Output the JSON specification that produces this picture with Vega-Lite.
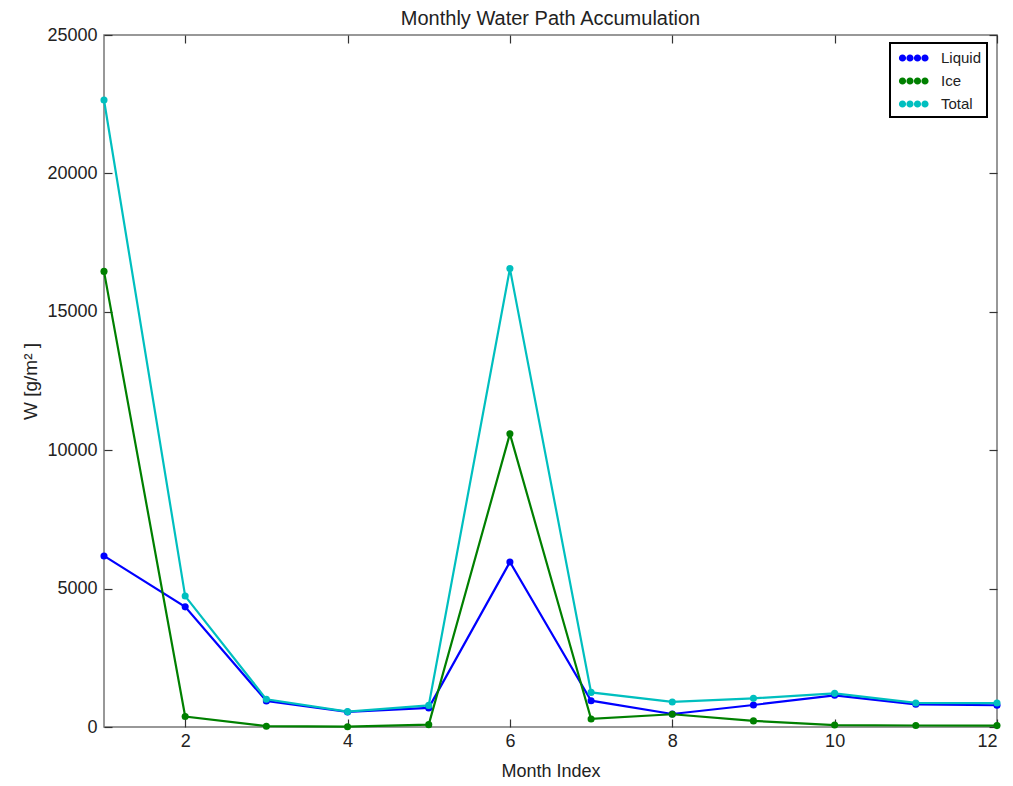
{
  "$schema": "https://vega.github.io/schema/vega-lite/v6.json",
  "width": 893,
  "height": 692,
  "autosize": "none",
  "padding": {"left": 104, "top": 35, "right": 16, "bottom": 59},
  "background": "white",
  "title": {"text": "Monthly Water Path Accumulation", "fontSize": 20, "font": "Liberation Sans", "fontWeight": "normal", "color": "#222", "offset": -3},
  "config": {
    "font": "Liberation Sans",
    "view": {"stroke": "#777", "strokeWidth": 1.5},
    "axis": {"grid": false, "domain": false, "tickColor": "#333", "tickSize": -8, "tickWidth": 1.2, "labelFontSize": 18, "labelColor": "#222", "labelFont": "Liberation Sans", "titleFont": "Liberation Sans", "titleFontSize": 18, "titleFontWeight": "normal", "titleColor": "#222"}
  },
  "data": {"values": [
    {"month": 1, "series": "Liquid", "W": 6180},
    {"month": 2, "series": "Liquid", "W": 4340},
    {"month": 3, "series": "Liquid", "W": 940},
    {"month": 4, "series": "Liquid", "W": 545},
    {"month": 5, "series": "Liquid", "W": 690},
    {"month": 6, "series": "Liquid", "W": 5960},
    {"month": 7, "series": "Liquid", "W": 950},
    {"month": 8, "series": "Liquid", "W": 470},
    {"month": 9, "series": "Liquid", "W": 795},
    {"month": 10, "series": "Liquid", "W": 1145},
    {"month": 11, "series": "Liquid", "W": 820},
    {"month": 12, "series": "Liquid", "W": 785},
    {"month": 1, "series": "Ice", "W": 16460},
    {"month": 2, "series": "Ice", "W": 380},
    {"month": 3, "series": "Ice", "W": 30},
    {"month": 4, "series": "Ice", "W": 10},
    {"month": 5, "series": "Ice", "W": 85},
    {"month": 6, "series": "Ice", "W": 10590},
    {"month": 7, "series": "Ice", "W": 290},
    {"month": 8, "series": "Ice", "W": 460},
    {"month": 9, "series": "Ice", "W": 220},
    {"month": 10, "series": "Ice", "W": 70},
    {"month": 11, "series": "Ice", "W": 55},
    {"month": 12, "series": "Ice", "W": 50},
    {"month": 1, "series": "Total", "W": 22650},
    {"month": 2, "series": "Total", "W": 4730},
    {"month": 3, "series": "Total", "W": 1000},
    {"month": 4, "series": "Total", "W": 555},
    {"month": 5, "series": "Total", "W": 780},
    {"month": 6, "series": "Total", "W": 16560},
    {"month": 7, "series": "Total", "W": 1250},
    {"month": 8, "series": "Total", "W": 905},
    {"month": 9, "series": "Total", "W": 1035},
    {"month": 10, "series": "Total", "W": 1215},
    {"month": 11, "series": "Total", "W": 870},
    {"month": 12, "series": "Total", "W": 865}
  ]},
  "encoding": {
    "x": {"field": "month", "type": "quantitative", "scale": {"domain": [1, 12], "nice": false, "zero": false}, "axis": {"values": [2, 4, 6, 8, 10, 12], "format": "d", "title": "Month Index", "labelPadding": 13, "titlePadding": 12}},
    "y": {"field": "W", "type": "quantitative", "scale": {"domain": [0, 25000], "nice": false}, "axis": {"values": [0, 5000, 10000, 15000, 20000, 25000], "format": "d", "title": "W [g/m² ]", "titleFontSize": 19, "labelPadding": 15, "titlePadding": 6}},
    "color": {"field": "series", "type": "nominal", "scale": {"domain": ["Liquid", "Ice", "Total"], "range": ["#0000ff", "#008000", "#00bfbf"]}}
  },
  "layer": [
    {"mark": {"type": "line", "strokeWidth": 2.2}, "encoding": {"color": {"field": "series", "type": "nominal", "legend": null}}},
    {"mark": {"type": "point", "filled": true, "size": 50, "opacity": 1},
     "encoding": {
       "x": {"field": "month", "type": "quantitative", "axis": null},
       "y": {"field": "W", "type": "quantitative", "axis": null},
       "color": {"field": "series", "type": "nominal", "legend": {
         "title": null, "orient": "none", "legendX": 786, "legendY": 8,
         "padding": 5, "fillColor": "white", "strokeColor": "black",
         "symbolType": "M-0.61,0 a0.36,0.36 0 1,0 0.72,0 a0.36,0.36 0 1,0 -0.72,0 M0.14,0 a0.36,0.36 0 1,0 0.72,0 a0.36,0.36 0 1,0 -0.72,0 M0.89,0 a0.36,0.36 0 1,0 0.72,0 a0.36,0.36 0 1,0 -0.72,0 M1.64,0 a0.36,0.36 0 1,0 0.72,0 a0.36,0.36 0 1,0 -0.72,0",
         "symbolSize": 400, "symbolStrokeWidth": 0, "symbolOpacity": 1,
         "labelFontSize": 15, "labelColor": "#222", "labelOffset": 26, "rowPadding": 5,
         "encode": {"legend": {"update": {"strokeWidth": {"value": 2}}}}
       }}
     }},
    {"mark": {"type": "line", "opacity": 0},
     "encoding": {
       "x": {"field": "month", "type": "quantitative", "axis": {"orient": "top", "values": [2, 4, 6, 8, 10, 12], "labels": false, "title": null}},
       "y": {"field": "W", "type": "quantitative", "axis": {"orient": "right", "values": [0, 5000, 10000, 15000, 20000, 25000], "labels": false, "title": null}},
       "color": {"field": "series", "type": "nominal", "legend": null}
     }}
  ],
  "resolve": {"axis": {"x": "independent", "y": "independent"}, "legend": {"color": "independent"}}
}
